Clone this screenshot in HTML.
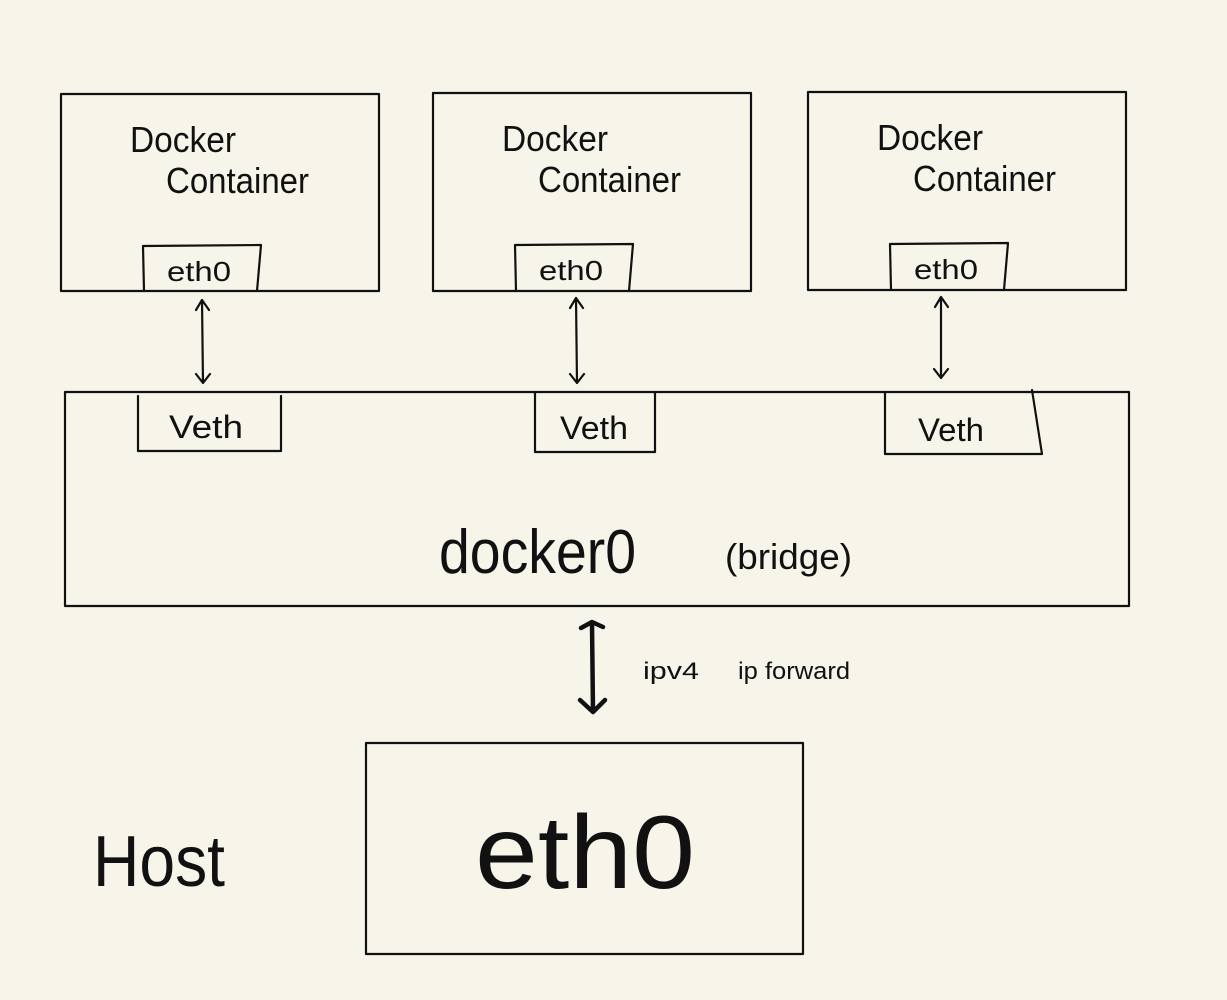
<!DOCTYPE html>
<html><head><meta charset="utf-8"><style>
html,body{margin:0;padding:0;background:#f7f5ea;}
svg{display:block}
text{font-family:"Liberation Sans",sans-serif;fill:#111;}
</style></head><body>
<svg width="1227" height="1000" viewBox="0 0 1227 1000" xmlns="http://www.w3.org/2000/svg">
<rect width="1227" height="1000" fill="#f7f5ea"/>
<g fill="none" stroke="#111" stroke-width="2.2" stroke-linecap="round" stroke-linejoin="round">
<rect x="61" y="94" width="318" height="197"/>
<rect x="433" y="93" width="318" height="198"/>
<rect x="808" y="92" width="318" height="198"/>
<path d="M144 291 L143 246 L261 245 L257 291"/>
<path d="M516 291 L515 245 L633 244 L629 291"/>
<path d="M891 290 L890 244 L1008 243 L1004 290"/>
<path d="M202 300 L203 383 M196 310 L202 300 L209 310 M196 374 L203 383 L210 374"/>
<path d="M576 298 L577 383 M570 308 L576 298 L583 308 M570 374 L577 383 L584 374"/>
<path d="M941 297 L941 378 M935 307 L941 297 L948 307 M934 369 L941 378 L948 369"/>
<rect x="65" y="392" width="1064" height="214"/>
<path d="M138 396 L138 451 L281 451 L281 396"/>
<path d="M535 393 L535 452 L655 452 L655 393"/>
<path d="M885 393 L885 454 L1042 454 L1032 390"/>
<rect x="366" y="743" width="437" height="211"/>
</g>
<path d="M592 624 L593 711 M581 628 L592 622 L603 627 M580 700 L593 712 L605 700" fill="none" stroke="#111" stroke-width="4.5" stroke-linecap="round" stroke-linejoin="round"/>
<g font-size="36">
<text x="130" y="152" textLength="106" lengthAdjust="spacingAndGlyphs">Docker</text><text x="166" y="193" textLength="143" lengthAdjust="spacingAndGlyphs">Container</text>
<text x="502" y="151" textLength="106" lengthAdjust="spacingAndGlyphs">Docker</text><text x="538" y="192" textLength="143" lengthAdjust="spacingAndGlyphs">Container</text>
<text x="877" y="150" textLength="106" lengthAdjust="spacingAndGlyphs">Docker</text><text x="913" y="191" textLength="143" lengthAdjust="spacingAndGlyphs">Container</text>
</g>
<g font-size="28">
<text x="167" y="281" textLength="64" lengthAdjust="spacingAndGlyphs">eth0</text>
<text x="539" y="280" textLength="64" lengthAdjust="spacingAndGlyphs">eth0</text>
<text x="914" y="279" textLength="64" lengthAdjust="spacingAndGlyphs">eth0</text>
</g>
<g font-size="32">
<text x="169" y="438" textLength="74" lengthAdjust="spacingAndGlyphs">Veth</text>
<text x="560" y="439" textLength="68" lengthAdjust="spacingAndGlyphs">Veth</text>
<text x="918" y="441" textLength="66" lengthAdjust="spacingAndGlyphs">Veth</text>
</g>
<text x="439" y="573" font-size="62" font-weight="300" textLength="197" lengthAdjust="spacingAndGlyphs">docker0</text>
<text x="725" y="569" font-size="36" textLength="127" lengthAdjust="spacingAndGlyphs">(bridge)</text>
<text x="643" y="679" font-size="24" textLength="56" lengthAdjust="spacingAndGlyphs">ipv4</text>
<text x="738" y="679" font-size="24" textLength="112" lengthAdjust="spacingAndGlyphs">ip forward</text>
<text x="475" y="888" font-size="104" textLength="220" lengthAdjust="spacingAndGlyphs">eth0</text>
<text x="93" y="886" font-size="72" font-weight="300" textLength="132" lengthAdjust="spacingAndGlyphs">Host</text>
</svg>
</body></html>
